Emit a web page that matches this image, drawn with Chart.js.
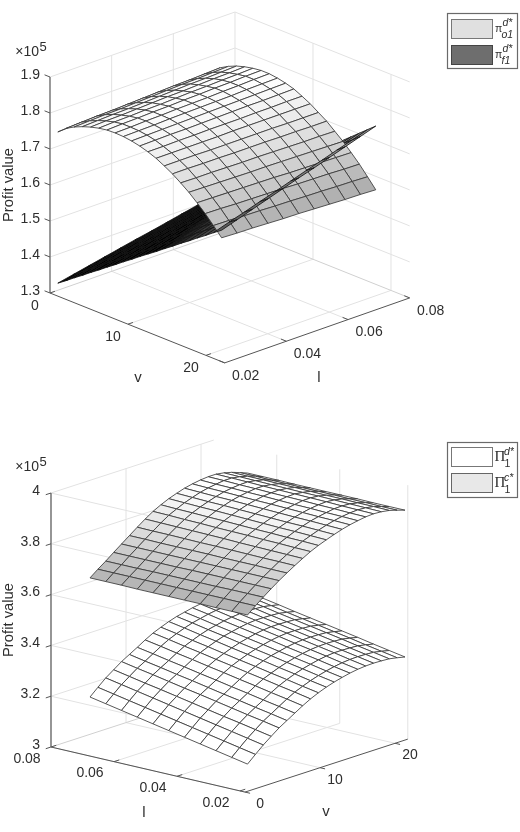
<!DOCTYPE html>
<html>
<head>
<meta charset="utf-8">
<title>Profit value surfaces</title>
<script src="https://cdn.jsdelivr.net/npm/chart.js@4/dist/chart.umd.js"></script>
<style>
    html, body { margin: 0; padding: 0; background: #fff; }
    canvas { display: block; }
</style>
</head>
<body>
<canvas id="topChart" width="520" height="416"></canvas>
<canvas id="bottomChart" width="520" height="416"></canvas>
<script>
// grid of the surfaces
const vValues = [1, 2.05, 3.1, 4.15, 5.2, 6.25, 7.3, 8.35, 9.4, 10.45, 11.5, 12.55, 13.6, 14.65, 15.7, 16.75, 17.8, 18.85, 19.9, 20.95, 22];
const lValues = [0.02, 0.025, 0.03, 0.035, 0.04, 0.045, 0.05, 0.055, 0.06, 0.065, 0.07];

// tick labels
const vTicks = [0, 10, 20];
const lTicks = [0.02, 0.04, 0.06, 0.08];
const topZTicks = [1.3, 1.4, 1.5, 1.6, 1.7, 1.8, 1.9];
const bottomZTicks = [3, 3.2, 3.4, 3.6, 3.8, 4];

// values are x10^5, one row per v, one column per l
const piO1 = [
    [1.756, 1.758, 1.759, 1.761, 1.762, 1.764, 1.766, 1.767, 1.769, 1.770, 1.772],
    [1.775, 1.777, 1.779, 1.780, 1.782, 1.784, 1.786, 1.788, 1.789, 1.791, 1.793],
    [1.788, 1.790, 1.792, 1.793, 1.795, 1.797, 1.799, 1.801, 1.802, 1.804, 1.806],
    [1.798, 1.800, 1.802, 1.803, 1.805, 1.807, 1.809, 1.811, 1.812, 1.814, 1.816],
    [1.806, 1.808, 1.809, 1.811, 1.813, 1.815, 1.816, 1.818, 1.820, 1.821, 1.823],
    [1.812, 1.814, 1.815, 1.817, 1.818, 1.820, 1.822, 1.823, 1.825, 1.826, 1.828],
    [1.816, 1.818, 1.819, 1.821, 1.822, 1.824, 1.825, 1.827, 1.828, 1.830, 1.831],
    [1.817, 1.818, 1.820, 1.821, 1.823, 1.824, 1.825, 1.827, 1.828, 1.830, 1.831],
    [1.816, 1.817, 1.818, 1.820, 1.821, 1.822, 1.823, 1.824, 1.826, 1.827, 1.828],
    [1.813, 1.814, 1.815, 1.816, 1.817, 1.818, 1.819, 1.820, 1.821, 1.822, 1.823],
    [1.808, 1.809, 1.810, 1.810, 1.811, 1.812, 1.813, 1.814, 1.814, 1.815, 1.816],
    [1.801, 1.801, 1.802, 1.802, 1.803, 1.803, 1.803, 1.804, 1.804, 1.805, 1.805],
    [1.792, 1.792, 1.792, 1.792, 1.792, 1.793, 1.793, 1.793, 1.793, 1.793, 1.793],
    [1.780, 1.780, 1.780, 1.779, 1.779, 1.779, 1.779, 1.779, 1.778, 1.778, 1.778],
    [1.767, 1.767, 1.766, 1.766, 1.765, 1.765, 1.765, 1.764, 1.764, 1.763, 1.763],
    [1.751, 1.750, 1.750, 1.749, 1.748, 1.748, 1.747, 1.746, 1.745, 1.745, 1.744],
    [1.734, 1.733, 1.732, 1.731, 1.730, 1.730, 1.729, 1.728, 1.727, 1.726, 1.725],
    [1.714, 1.713, 1.712, 1.711, 1.710, 1.709, 1.707, 1.706, 1.705, 1.704, 1.703],
    [1.693, 1.692, 1.690, 1.689, 1.688, 1.687, 1.685, 1.684, 1.683, 1.681, 1.680],
    [1.669, 1.668, 1.666, 1.665, 1.663, 1.662, 1.660, 1.659, 1.657, 1.656, 1.654],
    [1.644, 1.642, 1.641, 1.639, 1.637, 1.636, 1.634, 1.632, 1.630, 1.629, 1.627]
];

const piF1 = [
    [1.336, 1.345, 1.354, 1.363, 1.372, 1.381, 1.389, 1.398, 1.407, 1.416, 1.425],
    [1.352, 1.361, 1.370, 1.380, 1.389, 1.398, 1.407, 1.416, 1.426, 1.435, 1.444],
    [1.369, 1.378, 1.388, 1.397, 1.407, 1.416, 1.425, 1.435, 1.444, 1.454, 1.463],
    [1.385, 1.395, 1.404, 1.414, 1.424, 1.434, 1.443, 1.453, 1.463, 1.472, 1.482],
    [1.402, 1.412, 1.422, 1.432, 1.442, 1.452, 1.461, 1.471, 1.481, 1.491, 1.501],
    [1.418, 1.428, 1.438, 1.449, 1.459, 1.469, 1.479, 1.489, 1.500, 1.510, 1.520],
    [1.435, 1.445, 1.456, 1.466, 1.477, 1.487, 1.497, 1.508, 1.518, 1.529, 1.539],
    [1.451, 1.462, 1.472, 1.483, 1.494, 1.505, 1.515, 1.526, 1.537, 1.547, 1.558],
    [1.468, 1.479, 1.490, 1.501, 1.512, 1.523, 1.533, 1.544, 1.555, 1.566, 1.577],
    [1.484, 1.495, 1.506, 1.518, 1.529, 1.540, 1.551, 1.562, 1.574, 1.585, 1.596],
    [1.501, 1.512, 1.524, 1.535, 1.547, 1.558, 1.569, 1.581, 1.592, 1.604, 1.615],
    [1.517, 1.529, 1.540, 1.552, 1.563, 1.575, 1.587, 1.598, 1.610, 1.621, 1.633],
    [1.533, 1.545, 1.557, 1.569, 1.581, 1.593, 1.604, 1.616, 1.628, 1.640, 1.652],
    [1.550, 1.562, 1.574, 1.586, 1.598, 1.611, 1.623, 1.635, 1.647, 1.659, 1.671],
    [1.566, 1.578, 1.591, 1.603, 1.616, 1.628, 1.640, 1.653, 1.665, 1.678, 1.690],
    [1.583, 1.596, 1.608, 1.621, 1.633, 1.646, 1.659, 1.671, 1.684, 1.696, 1.709],
    [1.599, 1.612, 1.625, 1.638, 1.651, 1.664, 1.676, 1.689, 1.702, 1.715, 1.728],
    [1.616, 1.629, 1.642, 1.655, 1.668, 1.682, 1.695, 1.708, 1.721, 1.734, 1.747],
    [1.632, 1.645, 1.659, 1.672, 1.686, 1.699, 1.712, 1.726, 1.739, 1.753, 1.766],
    [1.649, 1.663, 1.676, 1.690, 1.703, 1.717, 1.731, 1.744, 1.758, 1.771, 1.785],
    [1.665, 1.679, 1.693, 1.707, 1.721, 1.735, 1.748, 1.762, 1.776, 1.790, 1.804]
];

const capPiD = [
    [3.096, 3.108, 3.120, 3.132, 3.144, 3.156, 3.168, 3.180, 3.192, 3.204, 3.216],
    [3.124, 3.136, 3.148, 3.160, 3.172, 3.184, 3.196, 3.208, 3.220, 3.232, 3.244],
    [3.151, 3.163, 3.175, 3.187, 3.199, 3.211, 3.223, 3.235, 3.247, 3.259, 3.271],
    [3.175, 3.187, 3.199, 3.210, 3.222, 3.234, 3.246, 3.258, 3.269, 3.281, 3.293],
    [3.198, 3.210, 3.221, 3.233, 3.245, 3.257, 3.268, 3.280, 3.292, 3.303, 3.315],
    [3.217, 3.229, 3.240, 3.252, 3.263, 3.275, 3.287, 3.298, 3.310, 3.321, 3.333],
    [3.236, 3.248, 3.259, 3.271, 3.282, 3.294, 3.305, 3.317, 3.328, 3.340, 3.351],
    [3.255, 3.267, 3.278, 3.290, 3.301, 3.313, 3.324, 3.336, 3.347, 3.359, 3.370],
    [3.272, 3.284, 3.295, 3.307, 3.318, 3.330, 3.341, 3.353, 3.364, 3.376, 3.387],
    [3.286, 3.297, 3.309, 3.320, 3.332, 3.343, 3.354, 3.366, 3.377, 3.389, 3.400],
    [3.298, 3.309, 3.321, 3.332, 3.344, 3.355, 3.366, 3.378, 3.389, 3.401, 3.412],
    [3.308, 3.319, 3.331, 3.342, 3.354, 3.365, 3.376, 3.388, 3.399, 3.411, 3.422],
    [3.316, 3.327, 3.339, 3.350, 3.361, 3.373, 3.384, 3.395, 3.406, 3.418, 3.429],
    [3.323, 3.334, 3.346, 3.357, 3.368, 3.380, 3.391, 3.402, 3.413, 3.425, 3.436],
    [3.328, 3.339, 3.351, 3.362, 3.373, 3.385, 3.396, 3.407, 3.418, 3.430, 3.441],
    [3.331, 3.342, 3.354, 3.365, 3.376, 3.388, 3.399, 3.410, 3.421, 3.433, 3.444],
    [3.332, 3.343, 3.354, 3.366, 3.377, 3.388, 3.399, 3.410, 3.422, 3.433, 3.444],
    [3.331, 3.342, 3.353, 3.365, 3.376, 3.387, 3.398, 3.409, 3.421, 3.432, 3.443],
    [3.329, 3.340, 3.351, 3.363, 3.374, 3.385, 3.396, 3.407, 3.419, 3.430, 3.441],
    [3.323, 3.334, 3.345, 3.357, 3.368, 3.379, 3.390, 3.401, 3.413, 3.424, 3.435],
    [3.316, 3.327, 3.338, 3.350, 3.361, 3.372, 3.383, 3.394, 3.406, 3.417, 3.428]
];

const capPiC = [
    [3.683, 3.683, 3.683, 3.684, 3.684, 3.684, 3.684, 3.684, 3.685, 3.685, 3.685],
    [3.709, 3.709, 3.709, 3.709, 3.709, 3.709, 3.709, 3.709, 3.709, 3.709, 3.709],
    [3.733, 3.733, 3.733, 3.732, 3.732, 3.732, 3.732, 3.732, 3.731, 3.731, 3.731],
    [3.756, 3.756, 3.756, 3.756, 3.756, 3.756, 3.755, 3.755, 3.755, 3.755, 3.755],
    [3.778, 3.778, 3.778, 3.778, 3.778, 3.778, 3.778, 3.778, 3.778, 3.778, 3.778],
    [3.798, 3.798, 3.799, 3.799, 3.799, 3.800, 3.800, 3.800, 3.800, 3.801, 3.801],
    [3.817, 3.818, 3.818, 3.819, 3.820, 3.821, 3.821, 3.822, 3.823, 3.823, 3.824],
    [3.835, 3.836, 3.837, 3.838, 3.839, 3.841, 3.842, 3.843, 3.844, 3.845, 3.846],
    [3.852, 3.853, 3.855, 3.856, 3.858, 3.859, 3.860, 3.862, 3.863, 3.865, 3.866],
    [3.866, 3.868, 3.869, 3.871, 3.872, 3.874, 3.876, 3.877, 3.879, 3.880, 3.882],
    [3.878, 3.880, 3.882, 3.883, 3.885, 3.887, 3.889, 3.891, 3.892, 3.894, 3.896],
    [3.889, 3.891, 3.893, 3.894, 3.896, 3.898, 3.900, 3.902, 3.903, 3.905, 3.907],
    [3.899, 3.901, 3.903, 3.904, 3.906, 3.908, 3.910, 3.912, 3.913, 3.915, 3.917],
    [3.907, 3.909, 3.910, 3.912, 3.914, 3.916, 3.917, 3.919, 3.921, 3.922, 3.924],
    [3.913, 3.915, 3.916, 3.918, 3.919, 3.921, 3.923, 3.924, 3.926, 3.927, 3.929],
    [3.918, 3.919, 3.921, 3.922, 3.924, 3.925, 3.926, 3.928, 3.929, 3.931, 3.932],
    [3.920, 3.921, 3.922, 3.924, 3.925, 3.926, 3.927, 3.928, 3.930, 3.931, 3.932],
    [3.918, 3.919, 3.920, 3.921, 3.922, 3.922, 3.923, 3.924, 3.925, 3.926, 3.927],
    [3.913, 3.914, 3.914, 3.915, 3.915, 3.916, 3.917, 3.917, 3.918, 3.918, 3.919],
    [3.904, 3.904, 3.905, 3.905, 3.906, 3.906, 3.906, 3.907, 3.907, 3.908, 3.908],
    [3.894, 3.894, 3.894, 3.895, 3.895, 3.895, 3.895, 3.895, 3.896, 3.896, 3.896]
];

const GRID = "#e2e2e2";
const FLOOR = "#d0d0d0";
const AXIS = "#555555";
const TEXT = "#2e2e2e";
const MESH = "#3a3a3a";
const MESH_DARK = "#141414";
const FONT = '"Liberation Sans", Arial, sans-serif';

// orthographic view of each axes box, in canvas units
const projectTop = (v, l, z) => ({
    x: 50 + 7.8 * v + 3083 * (l - 0.02),
    y: 293 + 3.12 * v - 1083 * (l - 0.02) - 360 * (z - 1.3)
});
const projectBottom = (v, l, z) => ({
    x: 51 + 7.5 * v + 3150 * (0.08 - l),
    y: 331 - 2.44 * v + 732 * (0.08 - l) - 254 * (z - 3)
});

const grayTop = (z) => {
    const t = Math.min(1, Math.max(0, (z - 1.33) / 0.5));
    const g = Math.round(255 * Math.pow(t, 0.72));
    return `rgb(${g},${g},${g})`;
};
const grayBottom = (z) => {
    const g = Math.min(255, Math.round(181 + (z - 3.68) * 310));
    return `rgb(${g},${g},${g})`;
};

function lineSet(points, color, width) {
    return {
        data: points,
        showLine: true,
        fill: false,
        borderColor: color,
        borderWidth: width,
        pointRadius: 0,
        clip: false
    };
}

function cellSet(project, surface, i, j, fillColor, meshColor) {
    const corners = [[i, j], [i + 1, j], [i + 1, j + 1], [i, j + 1], [i, j]];
    const points = corners.map(([a, b]) => project(vValues[a], lValues[b], surface[a][b]));
    return {
        data: points,
        showLine: true,
        fill: "shape",
        backgroundColor: fillColor,
        borderColor: meshColor || MESH,
        borderWidth: 0.85,
        borderJoinStyle: "round",
        pointRadius: 0,
        clip: false
    };
}

// walls and floor, then axis lines and tick marks
function boxSets(project, box) {
    const sets = [];
    const { vMax, lFront, lBack, zMin, zMax, zTicks } = box;
    zTicks.forEach((z) => {
        if (z === zMin) return;
        sets.push(lineSet([project(0, lFront, z), project(0, lBack, z), project(vMax, lBack, z)], GRID, 1));
    });
    box.wallV.forEach((v) => sets.push(lineSet([project(v, lBack, zMin), project(v, lBack, zMax)], GRID, 1)));
    box.wallL.forEach((l) => sets.push(lineSet([project(box.vWall, l, zMin), project(box.vWall, l, zMax)], GRID, 1)));
    box.floorV.forEach((v) => sets.push(lineSet([project(v, lFront, zMin), project(v, lBack, zMin)], GRID, 1)));
    box.floorL.forEach((l) => sets.push(lineSet([project(0, l, zMin), project(vMax, l, zMin)], GRID, 1)));
    sets.push(lineSet([project(0, lBack, zMin), project(0, lBack, zMax)], GRID, 1));
    sets.push(lineSet([project(0, lFront, zMin), project(0, lBack, zMin), project(vMax, lBack, zMin)], FLOOR, 1));
    return sets;
}

function axisSets(project, box) {
    const sets = [];
    const { vMax, lFront, lBack, zMin, zMax, zTicks, vAxisL, lAxisV, zAxisL, zAxisV } = box;
    sets.push(lineSet([project(0, vAxisL, zMin), project(vMax, vAxisL, zMin)], AXIS, 1));
    sets.push(lineSet([project(lAxisV, lFront, zMin), project(lAxisV, lBack, zMin)], AXIS, 1));
    sets.push(lineSet([project(zAxisV, zAxisL, zMin), project(zAxisV, zAxisL, zMax)], "#707070", 1.4));
    zTicks.forEach((z) => sets.push(lineSet([project(zAxisV, zAxisL, z), project(zAxisV + box.zTickDv, zAxisL + box.zTickDl, z)], AXIS, 1)));
    vTicks.forEach((v) => sets.push(lineSet([project(v, vAxisL, zMin), project(v, vAxisL + box.vTickDl, zMin)], AXIS, 1)));
    lTicks.forEach((l) => sets.push(lineSet([project(lAxisV, l, zMin), project(lAxisV + box.lTickDv, l, zMin)], AXIS, 1)));
    return sets;
}

function textAt(ctx, str, x, y, font, align) {
    ctx.font = font;
    ctx.textAlign = align || "center";
    ctx.textBaseline = "middle";
    ctx.fillText(str, x, y);
}

// tick labels, axis titles and the legend box
const labelPlugin = {
    id: "labelPlugin",
    afterDraw(chart, args, opts) {
        const { ctx, scales } = chart;
        const px = (p) => ({ x: scales.x.getPixelForValue(p.x), y: scales.y.getPixelForValue(p.y) });
        const box = opts.box;
        const project = opts.project;
        ctx.save();
        ctx.fillStyle = TEXT;
        const tickFont = `14px ${FONT}`;
        box.zTicks.forEach((z) => {
            const p = px(project(box.zAxisV, box.zAxisL, z));
            textAt(ctx, String(z), 40, p.y - 2, tickFont, "right");
        });
        vTicks.forEach((v) => {
            const p = px(project(v, box.vAxisL, box.zMin));
            textAt(ctx, String(v), p.x + box.vLabelDx, p.y + box.vLabelDy, tickFont);
        });
        lTicks.forEach((l) => {
            const p = px(project(box.lAxisV, l, box.zMin));
            textAt(ctx, l.toFixed(2), p.x + box.lLabelDx, p.y + box.lLabelDy, tickFont);
        });
        textAt(ctx, "\u00d710", 39, box.expY, tickFont, "right");
        textAt(ctx, "5", 39.5, box.expY - 5, `13px ${FONT}`, "left");
        textAt(ctx, "v", box.vTitle[0], box.vTitle[1], `15px ${FONT}`);
        textAt(ctx, "l", box.lTitle[0], box.lTitle[1], `15px ${FONT}`);
        ctx.save();
        ctx.translate(box.zTitle[0], box.zTitle[1]);
        ctx.rotate(-Math.PI / 2);
        textAt(ctx, "Profit value", 0, 0, `14.8px ${FONT}`);
        ctx.restore();

        const lg = opts.legend;
        ctx.fillStyle = "#fff";
        ctx.strokeStyle = "#6a6a6a";
        ctx.lineWidth = 1.2;
        ctx.fillRect(447.5, lg.y, 70, lg.h);
        ctx.strokeRect(447.5, lg.y, 70, lg.h);
        lg.rows.forEach((row) => {
            ctx.fillStyle = row.fill;
            ctx.strokeStyle = row.stroke;
            ctx.lineWidth = 1;
            ctx.fillRect(451.5, row.y, 41, 19);
            ctx.strokeRect(451.5, row.y, 41, 19);
            ctx.fillStyle = TEXT;
            textAt(ctx, row.sym, row.symX, row.y + 10, row.symFont, "left");
            textAt(ctx, row.sup, lg.supX, row.y + lg.supDy, `italic 10.5px ${FONT}`, "left");
            textAt(ctx, row.sub, lg.subX, row.y + lg.subDy, `${lg.subItalic ? "italic " : ""}10.5px ${FONT}`, "left");
        });
        ctx.restore();
    }
};

function makeChart(id, datasets, plugin) {
    return new Chart(document.getElementById(id).getContext("2d"), {
        type: "scatter",
        // Chart.js paints the first dataset last
        data: { datasets: datasets.slice().reverse() },
        options: {
            responsive: false,
            animation: false,
            events: [],
            layout: { padding: 0 },
            scales: {
                x: { type: "linear", min: 0, max: 520, display: false },
                y: { type: "linear", min: 0, max: 416, reverse: true, display: false }
            },
            elements: { line: { tension: 0 } },
            plugins: { legend: { display: false }, tooltip: { enabled: false }, labelPlugin: plugin }
        },
        plugins: [labelPlugin]
    });
}

const topBox = {
    vMax: 22.4, lFront: 0.02, lBack: 0.08, zMin: 1.3, zMax: 1.9, zTicks: topZTicks,
    wallV: [10, 20], wallL: [0.04, 0.06], vWall: 0, floorV: [10, 20], floorL: [0.04, 0.06],
    vAxisL: 0.02, lAxisV: 22.4, zAxisL: 0.02, zAxisV: 0,
    zTickDv: -0.7, zTickDl: 0, vTickDl: 0.0016, lTickDv: -0.7,
    vLabelDx: -15, vLabelDy: 13, lLabelDx: 21, lLabelDy: 13,
    expY: 52, vTitle: [138, 378], lTitle: [319, 378], zTitle: [9, 185]
};

const bottomBox = {
    vMax: 21.7, lFront: 0.0184, lBack: 0.08, zMin: 3, zMax: 4, zTicks: bottomZTicks,
    wallV: [10, 20], wallL: [0.04, 0.06, 0.0184], vWall: 21.7, floorV: [10, 20], floorL: [0.04, 0.06],
    vAxisL: 0.0184, lAxisV: 0, zAxisL: 0.08, zAxisV: 0,
    zTickDv: -0.7, zTickDl: 0, vTickDl: -0.0016, lTickDv: 0.7,
    vLabelDx: 15, vLabelDy: 12, lLabelDx: -24, lLabelDy: 12,
    expY: 51, vTitle: [326, 396], lTitle: [144, 397], zTitle: [9, 204]
};

// back to front: camera sits at high v and low l in the top view
const topSets = [...boxSets(projectTop, topBox)];
const lastV = vValues.length - 2;
for (let i = 0; i < lastV; i++) {
    for (let j = lValues.length - 2; j >= 0; j--) {
        topSets.push(cellSet(projectTop, piF1, i, j, grayTop(piF1[i][j] - 0.2), MESH_DARK));
    }
}
for (let i = 0; i <= lastV; i++) {
    for (let j = lValues.length - 2; j >= 0; j--) {
        topSets.push(cellSet(projectTop, piO1, i, j, grayTop(piO1[i + 1][j])));
    }
}
for (let j = lValues.length - 2; j >= 0; j--) {
    topSets.push(cellSet(projectTop, piF1, lastV, j, grayTop(piF1[lastV][j] - 0.2), MESH_DARK));
}
topSets.push(...axisSets(projectTop, topBox));

// bottom view: camera sits at low v and low l
const bottomSets = [...boxSets(projectBottom, bottomBox)];
[[capPiD, () => "#ffffff"], [capPiC, grayBottom]].forEach(([surface, shade]) => {
    for (let i = lastV; i >= 0; i--) {
        for (let j = lValues.length - 2; j >= 0; j--) {
            bottomSets.push(cellSet(projectBottom, surface, i, j, shade(surface[i][j])));
        }
    }
});
bottomSets.push(...axisSets(projectBottom, bottomBox));

makeChart("topChart", topSets, {
    project: projectTop,
    box: topBox,
    legend: {
        y: 13.5, h: 55, supX: 502.5, supDy: 4, subX: 501.5, subDy: 16, subItalic: true,
        rows: [
            { y: 19.5, fill: "#e0e0e0", stroke: "#777777", sym: "\u03c0", symX: 495, symFont: `10.5px ${FONT}`, sup: "d*", sub: "o1" },
            { y: 45.5, fill: "#6e6e6e", stroke: "#444444", sym: "\u03c0", symX: 495, symFont: `10.5px ${FONT}`, sup: "d*", sub: "f1" }
        ]
    }
});

makeChart("bottomChart", bottomSets, {
    project: projectBottom,
    box: bottomBox,
    legend: {
        y: 26.5, h: 55, supX: 504, supDy: 5, subX: 504.5, subDy: 17, subItalic: false,
        rows: [
            { y: 31.5, fill: "#ffffff", stroke: "#777777", sym: "\u03a0", symX: 494.5, symFont: '15px "Liberation Serif", serif', sup: "d*", sub: "1" },
            { y: 57.5, fill: "#e8e8e8", stroke: "#666666", sym: "\u03a0", symX: 494.5, symFont: '15px "Liberation Serif", serif', sup: "c*", sub: "1" }
        ]
    }
});
</script>
</body>
</html>
